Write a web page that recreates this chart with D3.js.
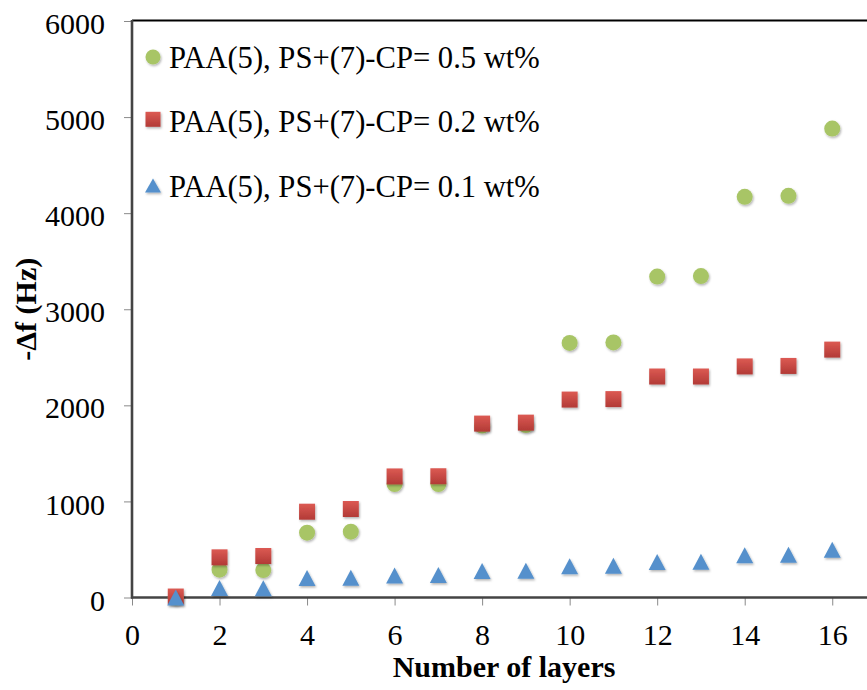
<!DOCTYPE html>
<html>
<head>
<meta charset="utf-8">
<script src="https://cdnjs.cloudflare.com/ajax/libs/d3/7.8.5/d3.min.js"></script>
<style>
  html, body { margin: 0; padding: 0; background: #fff; }
  svg { display: block; }
</style>
</head>
<body>
<div id="chart"></div>
<script>
// layers 1..16
var layers = [1, 2, 3, 4, 5, 6, 7, 8, 9, 10, 11, 12, 13, 14, 15, 16];
var series05 = [0, 290, 285, 675, 685, 1180, 1180, 1790, 1795, 2650, 2655, 3340, 3345, 4170, 4180, 4880];
var series02 = [10, 418, 432, 893, 921, 1260, 1262, 1810, 1820, 2060, 2065, 2300, 2300, 2405, 2410, 2580];
var series01 = [0, 100, 95, 203, 205, 230, 235, 276, 279, 325, 330, 370, 372, 440, 445, 497];
var legendLabels = [
  'PAA(5), PS+(7)-CP= 0.5 wt%',
  'PAA(5), PS+(7)-CP= 0.2 wt%',
  'PAA(5), PS+(7)-CP= 0.1 wt%'
];
var xTicks = [0, 2, 4, 6, 8, 10, 12, 14, 16];
var yTicks = [0, 1000, 2000, 3000, 4000, 5000, 6000];

(function () {
  var W = 867, H = 690;
  var mLeft = 132, mTop = 21, mRight = 876, mBottom = 597.5;
  var font = '"Liberation Serif", "Times New Roman", serif';

  var svg = d3.select('#chart').append('svg')
    .attr('width', W)
    .attr('height', H);

  var defs = svg.append('defs');
  var shadow = defs.append('filter').attr('id', 'shadow')
    .attr('x', '-30%').attr('y', '-30%').attr('width', '160%').attr('height', '160%');
  shadow.append('feDropShadow')
    .attr('dx', 1).attr('dy', 1.5).attr('stdDeviation', 1.2)
    .attr('flood-color', '#000').attr('flood-opacity', 0.3);

  var redGrad = defs.append('linearGradient').attr('id', 'redGrad')
    .attr('x1', 0).attr('y1', 0).attr('x2', 0).attr('y2', 1);
  redGrad.append('stop').attr('offset', '0%').attr('stop-color', '#dc5a53');
  redGrad.append('stop').attr('offset', '100%').attr('stop-color', '#b23a36');

  var x = d3.scaleLinear().domain([0, 17]).range([mLeft, mRight]);
  var y = d3.scaleLinear().domain([0, 6000]).range([mBottom, mTop]);

  // top border of the plot area
  svg.append('line')
    .attr('x1', mLeft).attr('x2', W)
    .attr('y1', mTop - 0.5).attr('y2', mTop - 0.5)
    .attr('stroke', '#000').attr('stroke-width', 2.2);

  // axes
  var yAxis = svg.append('g')
    .attr('transform', 'translate(' + mLeft + ',0)')
    .call(d3.axisLeft(y).tickValues(yTicks).tickFormat(d3.format('d')).tickSize(8).tickPadding(19));
  var xAxis = svg.append('g')
    .attr('transform', 'translate(0,' + mBottom + ')')
    .call(d3.axisBottom(x).tickValues(xTicks).tickFormat(d3.format('d')).tickSize(8).tickPadding(18));

  [xAxis, yAxis].forEach(function (g) {
    g.select('.domain').remove();
    g.selectAll('.tick line').attr('stroke', '#8a8a8a').attr('stroke-width', 1);
    g.selectAll('.tick text')
      .attr('fill', '#000')
      .style('font-family', font)
      .style('font-size', '30px');
  });
  yAxis.selectAll('.tick text').attr('dy', '0.42em');
  xAxis.selectAll('.tick text').attr('dy', '0.71em');

  svg.append('line')
    .attr('x1', mLeft).attr('x2', mLeft)
    .attr('y1', mTop - 1).attr('y2', mBottom + 1)
    .attr('stroke', '#444').attr('stroke-width', 2.6);
  svg.append('line')
    .attr('x1', mLeft - 1).attr('x2', W)
    .attr('y1', mBottom).attr('y2', mBottom)
    .attr('stroke', '#444').attr('stroke-width', 2.6);

  // axis titles
  svg.append('text')
    .attr('x', (mLeft + mRight) / 2)
    .attr('y', 677)
    .attr('text-anchor', 'middle')
    .style('font-family', font)
    .style('font-size', '30px')
    .style('font-weight', 'bold')
    .text('Number of layers');

  svg.append('text')
    .attr('transform', 'translate(36,' + ((mTop + mBottom) / 2) + ') rotate(-90)')
    .attr('text-anchor', 'middle')
    .style('font-family', font)
    .style('font-size', '30px')
    .style('font-weight', 'bold')
    .text('-\u0394f (Hz)');

  // marker shapes
  var circlePath = d3.symbol().type(d3.symbolCircle).size(Math.PI * 8 * 8)();
  var squarePath = d3.symbol().type(d3.symbolSquare).size(16 * 16)();
  var trianglePath = 'M0,-8L8.5,8L-8.5,8Z';

  var sets = [
    { values: series05, path: circlePath, fill: '#a8c566' },
    { values: series02, path: squarePath, fill: 'url(#redGrad)' },
    { values: series01, path: trianglePath, fill: '#5590cc' }
  ];

  sets.forEach(function (s) {
    svg.append('g').selectAll('path')
      .data(layers.map(function (l, i) { return [l, s.values[i]]; }))
      .enter().append('path')
      .attr('d', s.path)
      .attr('transform', function (d) { return 'translate(' + x(d[0]) + ',' + y(d[1]) + ')'; })
      .attr('fill', s.fill)
      .attr('filter', 'url(#shadow)');
  });

  // legend
  var legendSymbols = [
    d3.symbol().type(d3.symbolCircle).size(Math.PI * 7.5 * 7.5)(),
    d3.symbol().type(d3.symbolSquare).size(15 * 15)(),
    'M0,-7L8,7L-8,7Z'
  ];
  var rows = svg.append('g').selectAll('g')
    .data(legendLabels)
    .enter().append('g')
    .attr('transform', function (d, i) { return 'translate(0,' + (68 + i * 64.3) + ')'; });
  rows.append('path')
    .attr('d', function (d, i) { return legendSymbols[i]; })
    .attr('transform', function (d, i) { return 'translate(153,' + (i === 1 ? -13 : -11) + ')'; })
    .attr('fill', function (d, i) { return sets[i].fill; })
    .attr('filter', 'url(#shadow)');
  rows.append('text')
    .attr('x', 169)
    .attr('y', 0)
    .style('font-family', font)
    .style('font-size', '30.6px')
    .text(function (d) { return d; });
})();
</script>
</body>
</html>
